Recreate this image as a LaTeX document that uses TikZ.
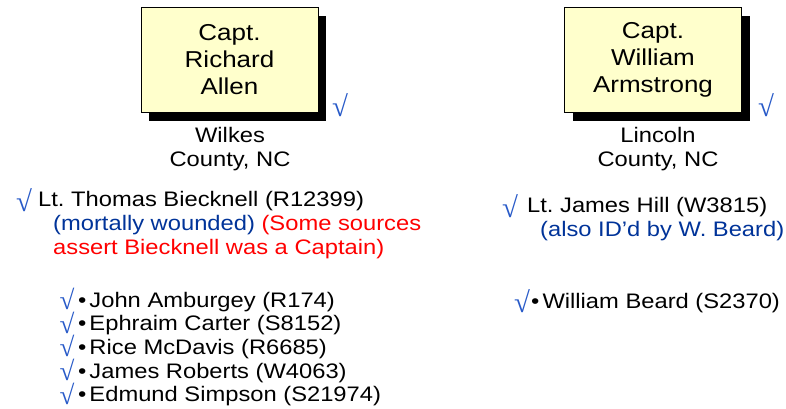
\documentclass[tikz,border=0pt]{standalone}
\usepackage{fontspec}
\setmainfont[FakeStretch=1.13]{Liberation Sans}
\usepackage{xcolor}
\usepackage{tikz}
\usetikzlibrary{positioning, shadows}
\newfontfamily\chkfont{Liberation Serif}
\definecolor{azulito}{RGB}{0,51,153}
\definecolor{chkazul}{RGB}{40,90,200}
\definecolor{rojito}{RGB}{255,0,0}
\definecolor{amarillito}{RGB}{255,255,204}
\newcommand{\chk}{{\chkfont\color{chkazul}√}}
\newcommand{\bul}{\textbullet\hspace{3pt}}
\frenchspacing
\tikzset{
  capbox/.style={draw=black, fill=amarillito, minimum width=177pt, minimum height=105pt,
    align=center, inner sep=0pt, font=\fontsize{23}{27}\selectfont,
    drop shadow={shadow xshift=8pt, shadow yshift=-9pt, fill=black, opacity=1}},
  txt/.style={inner sep=0pt, font=\fontsize{21}{24}\selectfont},
  chkmark/.style={inner sep=0pt, font=\fontsize{29}{30}\selectfont},
  chksmall/.style={inner sep=0pt, font=\fontsize{27}{28}\selectfont}
}

\begin{document}
\begin{tikzpicture}[x=1pt, y=-1pt]
    \useasboundingbox (0,0) rectangle (786,409);
    % captains
    \node[capbox] (allen) at (229.5,59.5) {Capt.\\Richard\\Allen};
    \node[capbox] (armstrong) at (653,59.5) {Capt.\\William\\Armstrong};
    \node[chkmark, anchor=base] (chkallen) at (340,117) {\chk};
    \node[chkmark, anchor=base] (chkarmstrong) at (766,117) {\chk};
    % counties
    \node[txt, align=center, anchor=north] (wilkes) at (230,127) {Wilkes\\County, NC};
    \node[txt, align=center, anchor=north] (lincoln) at (658,127) {Lincoln\\County, NC};
    % lieutenants
    \node[chkmark, anchor=base] (chkbiecknell) at (24,211) {\chk};
    \node[txt, align=left, anchor=north west] (biecknell) at (38,191)
      {Lt. Thomas Biecknell (R12399)\\
       \hspace{15pt}{\color{azulito}(mortally wounded)} {\color{rojito}(Some sources}\\
       \hspace{15pt}{\color{rojito}assert Biecknell was a Captain)}};
    \node[chkmark, anchor=base] (chkhill) at (510,217) {\chk};
    \node[txt, align=left, anchor=north west] (hill) at (527,197)
      {Lt. James Hill (W3815)\\
       \hspace{13pt}{\color{azulito}(also ID'd by W. Beard)}};
    % men of Allen
    \node[chksmall, anchor=base] (chkamburgey) at (67,309.5) {\chk};
    \node[txt, anchor=base west] (amburgey) at (78,307) {\bul John Amburgey (R174)};
    \node[chksmall, anchor=base] (chkcarter) at (67,333.2) {\chk};
    \node[txt, anchor=base west] (carter) at (78,330.7) {\bul Ephraim Carter (S8152)};
    \node[chksmall, anchor=base] (chkmcdavis) at (67,356.9) {\chk};
    \node[txt, anchor=base west] (mcdavis) at (78,354.4) {\bul Rice McDavis (R6685)};
    \node[chksmall, anchor=base] (chkroberts) at (67,380.6) {\chk};
    \node[txt, anchor=base west] (roberts) at (78,378.1) {\bul James Roberts (W4063)};
    \node[chksmall, anchor=base] (chksimpson) at (67,404.3) {\chk};
    \node[txt, anchor=base west] (simpson) at (78,401.8) {\bul Edmund Simpson (S21974)};
    % men of Armstrong
    \node[chkmark, anchor=base] (chkbeard) at (522,312) {\chk};
    \node[txt, anchor=base west] (beard) at (531,308) {\bul William Beard (S2370)};
\end{tikzpicture}
\end{document}
